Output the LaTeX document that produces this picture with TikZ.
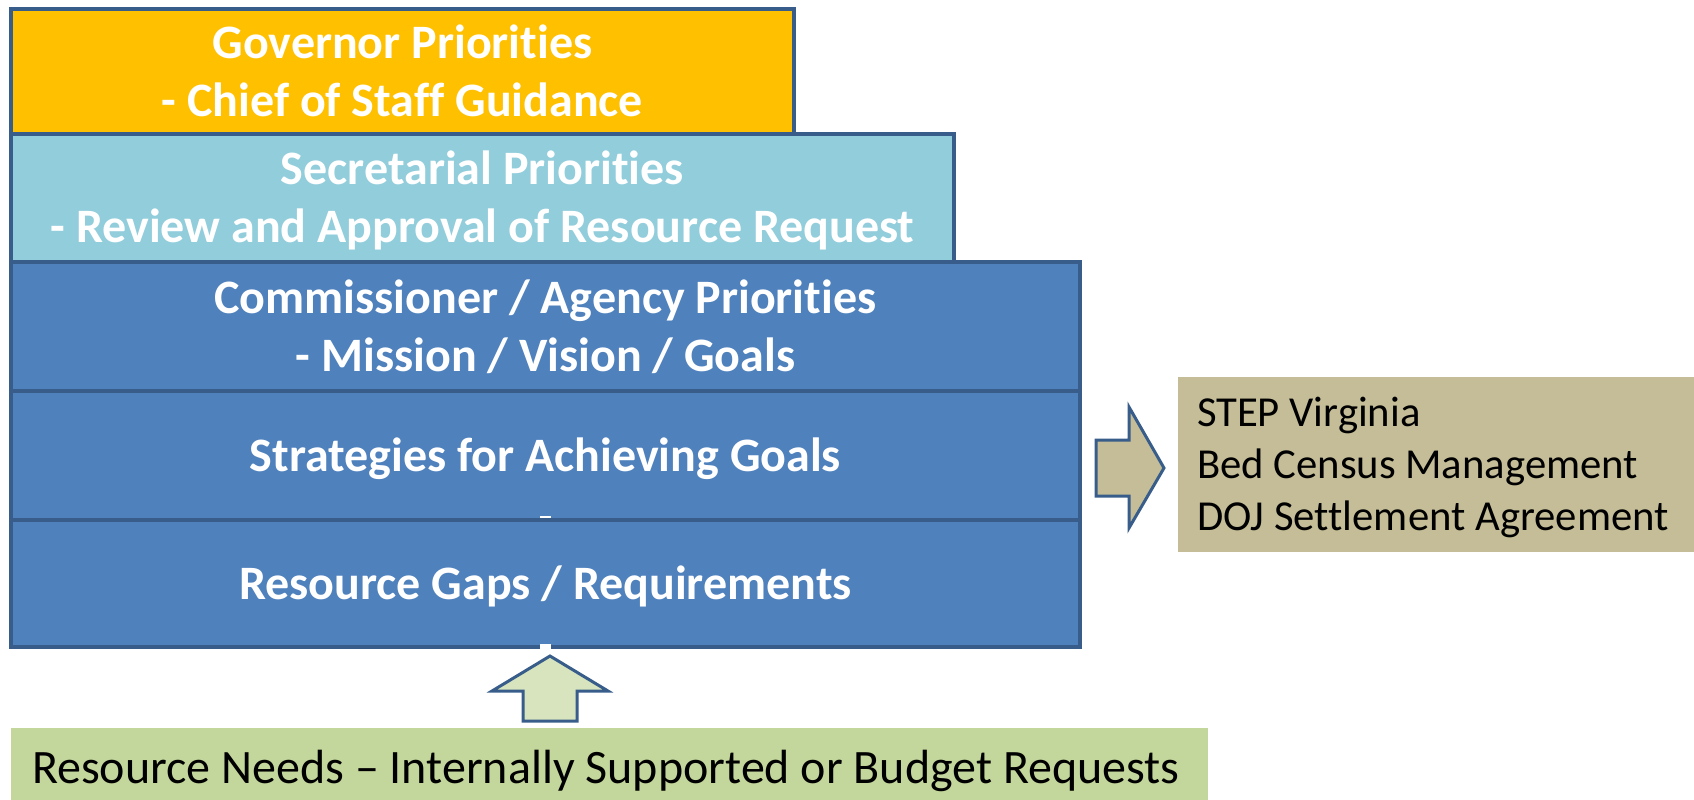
\documentclass[tikz,border=0pt]{standalone}
\usepackage{fontspec}
\setmainfont{Carlito}[Ligatures={NoCommon}]
\definecolor{govgold}{HTML}{FFC000}
\definecolor{secblue}{HTML}{92CDDC}
\definecolor{agencyblue}{HTML}{4F81BD}
\definecolor{edgeblue}{HTML}{385D8A}
\definecolor{tanfill}{HTML}{C4BD97}
\definecolor{needsgreen}{HTML}{C3D69B}
\definecolor{arrowgreen}{HTML}{D7E4BD}
% lines with fixed cap height and no depth, so text centres on its capitals;
% the font's own interword space is restored inside each line
\newcommand{\capline}[1]{\raisebox{0pt}[31pt][0pt]{\spaceskip=0pt\xspaceskip=0pt #1}}
\newcommand{\listline}[1]{\raisebox{0pt}[27pt][0pt]{\spaceskip=0pt\xspaceskip=0pt #1}}
\newcommand{\barline}[1]{\raisebox{0pt}[38pt][0pt]{\spaceskip=0pt\xspaceskip=0pt #1}}
\begin{document}
\begin{tikzpicture}[x=1pt,y=-1pt,
  tier/.style={draw=edgeblue, line width=3.5pt, rectangle, inner sep=0pt,
    outer sep=0pt, anchor=north west, align=center, text=white,
    font=\fontsize{48}{58}\selectfont\bfseries},
  plainbox/.style={rectangle, inner ysep=0pt, outer sep=0pt,
    anchor=north west, align=left, text=black},
  blockarrow/.style={draw=edgeblue, line width=3pt, line join=miter}
]
\useasboundingbox (0,0) rectangle (1694,800);

% stacked priority tiers
\node[tier, fill=govgold, minimum width=783pt, minimum height=125pt] (gov) at (11,9)
  {\capline{Governor Priorities}\\\capline{- Chief of Staff Guidance}};
\node[tier, fill=secblue, minimum width=943pt, minimum height=128pt] (sec) at (11,134)
  {\capline{Secretarial Priorities}\\\capline{- Review and Approval of Resource Request}};
\node[tier, fill=agencyblue, minimum width=1069pt, minimum height=129pt] (agency) at (11,262)
  {\capline{Commissioner / Agency Priorities}\\\capline{- Mission / Vision / Goals}};
\node[tier, fill=agencyblue, minimum width=1069pt, minimum height=129pt] (strat) at (11,391)
  {\capline{Strategies for Achieving Goals}};
\node[tier, fill=agencyblue, minimum width=1069pt, minimum height=127pt] (gaps) at (11,520)
  {\capline{Resource Gaps / Requirements}};

% small white dash marks
\fill[white] (540,515.5) rectangle (551,517.5);
\fill[white] (540,644) rectangle (551,648.5);

% initiatives box on the right
\node[plainbox, fill=tanfill, minimum width=516pt, minimum height=175pt,
  inner xsep=19pt, text width=478pt, font=\fontsize{42.7}{52}\selectfont] (init) at (1178,377)
  {\listline{STEP Virginia}\\\listline{Bed Census Management}\\\listline{DOJ Settlement Agreement}};

% resource needs bar at the bottom
\node[plainbox, fill=needsgreen, minimum width=1197pt, minimum height=72pt,
  inner xsep=21pt, text width=1155pt, font=\fontsize{48}{58}\selectfont] (needs) at (11,728)
  {\barline{Resource Needs – Internally Supported or Budget Requests}};

% block arrow towards the initiatives
\draw[blockarrow, fill=tanfill] (1096,440) -- (1129,440) -- (1129,407) -- (1164,468)
  -- (1129,528) -- (1129,496) -- (1096,496) -- cycle;

% block arrow up from the resource needs
\draw[blockarrow, fill=arrowgreen] (550,656) -- (608,691) -- (577,691) -- (577,721)
  -- (523,721) -- (523,691) -- (492,691) -- cycle;
\end{tikzpicture}
\end{document}
